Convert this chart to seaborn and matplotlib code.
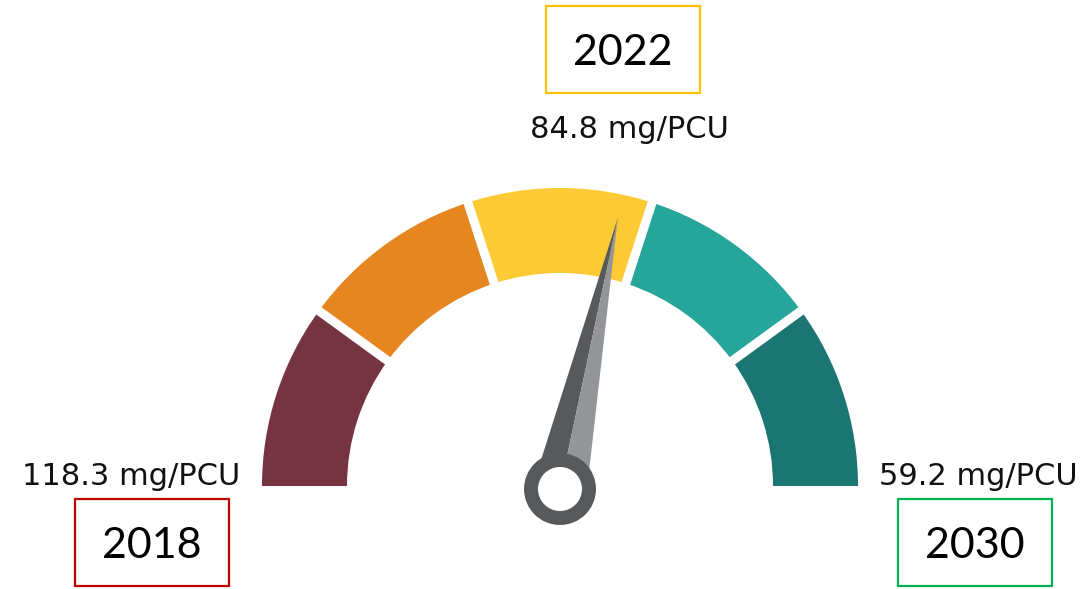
import matplotlib
matplotlib.use("Agg")
import matplotlib.pyplot as plt
from matplotlib.patches import Wedge, Circle, Polygon, Rectangle
import numpy as np
import seaborn as sns

# gauge data
years = ["2018", "2022", "2030"]
values = [118.3, 84.8, 59.2]
unit = "mg/PCU"
segment_colors = ['#763341', '#E68620', '#FCCA35', '#26A59B', '#1B7673']
box_colors = ['#C00000', '#FFC000', '#00B050']

sns.set_theme(style='white')
plt.rcParams['font.family'] = ['DejaVu Sans']

W, H = 1086, 589
fig = plt.figure(figsize=(W / 100, H / 100), dpi=100)
ax = fig.add_axes([0, 0, 1, 1])
ax.set_xlim(0, W)
ax.set_ylim(0, H)
ax.set_axis_off()

cx, cy = 560, H - 486
r_out, r_in = 298, 213

start, end = values[0], values[-1]


def angle_of(v):
    return 180.0 * (v - end) / (start - end)


# coloured bands
bounds = np.linspace(start, end, len(segment_colors) + 1)
for i, col in enumerate(segment_colors):
    a1, a2 = angle_of(bounds[i + 1]), angle_of(bounds[i])
    ax.add_patch(Wedge((cx, cy), r_out, a1, a2, width=r_out - r_in,
                       facecolor=col, edgecolor='none'))
# white gaps between bands
for b in bounds[1:-1]:
    t = np.radians(angle_of(b))
    ax.plot([cx + (r_in - 5) * np.cos(t), cx + (r_out + 5) * np.cos(t)],
            [cy + (r_in - 5) * np.sin(t), cy + (r_out + 5) * np.sin(t)],
            color='white', lw=6.5, solid_capstyle='butt')

# needle
t = np.radians(angle_of(values[1]))
hx, hy = 560, H - 489
tip = (hx + 277 * np.cos(t), hy + 277 * np.sin(t))
nx, ny = -np.sin(t), np.cos(t)
hw = 27
left = (hx + hw * nx, hy + hw * ny)
right = (hx - hw * nx, hy - hw * ny)
ax.add_patch(Polygon([left, tip, (hx, hy)], closed=True, facecolor='#58595B', edgecolor='none'))
ax.add_patch(Polygon([(hx, hy), tip, right], closed=True, facecolor='#939598', edgecolor='none'))
ax.add_patch(Circle((hx, hy), 36, facecolor='#58595B', edgecolor='none'))
ax.add_patch(Circle((hx, hy), 22, facecolor='white', edgecolor='none'))

# value labels
label_pos = [(131, H - 485), (629, H - 138), (978, H - 485)]
for v, (x, y) in zip(values, label_pos):
    ax.text(x, y, f"{v} {unit}", ha='center', va='baseline', fontsize=22, color='#111111')

# year boxes
box_pos = [(75, 499), (546, 6), (898, 499)]
for yr, col, (x0, y0) in zip(years, box_colors, box_pos):
    bw, bh = 154, 87
    ax.add_patch(Rectangle((x0, H - y0 - bh), bw, bh, facecolor='white',
                           edgecolor=col, lw=1.6))
    ax.text(x0 + bw / 2, H - y0 - 59, yr, ha='center', va='baseline',
            fontsize=31, family=['Lato', 'DejaVu Sans'], color='black')

fig.savefig("out.png", dpi=100)
